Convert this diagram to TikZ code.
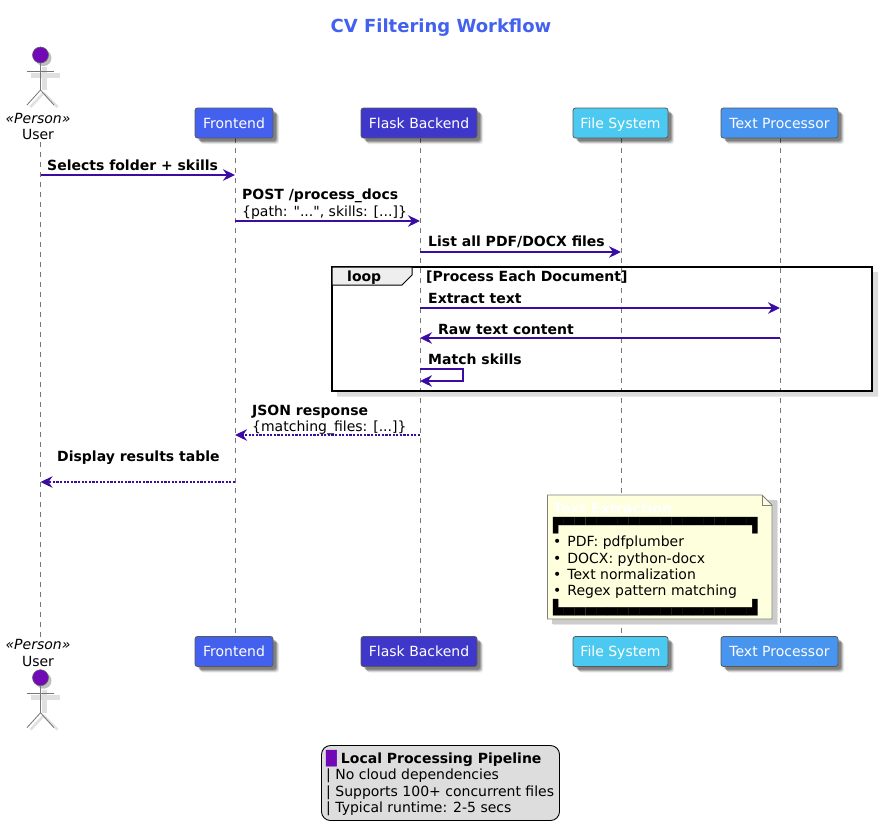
\documentclass[tikz,border=0pt]{standalone}
\usepackage{fontspec}
\setmainfont{DejaVu Sans}
\newfontfamily\plainq{DejaVu Sans}
\usetikzlibrary{arrows.meta,shadows,calc}
\definecolor{cTitle}{HTML}{4361EE}
\definecolor{cFS}{HTML}{4CC9F0}
\definecolor{cTP}{HTML}{4895EF}
\definecolor{cFB}{HTML}{3F37C9}
\definecolor{cHead}{HTML}{7209B7}
\definecolor{cArrow}{HTML}{3A0CA3}
\definecolor{cNote}{HTML}{FEFFDD}
\definecolor{cLine}{HTML}{777777}
\definecolor{cLegend}{HTML}{DDDDDD}
\definecolor{cTab}{HTML}{EEEEEE}
\tikzset{
  softshadow/.style={
    general shadow={shadow xshift=6pt,shadow yshift=-6pt,fill=black,opacity=.08},
    general shadow={shadow xshift=5pt,shadow yshift=-5pt,fill=black,opacity=.14},
    general shadow={shadow xshift=4pt,shadow yshift=-4pt,fill=black,opacity=.2},
    general shadow={shadow xshift=3pt,shadow yshift=-3pt,fill=black,opacity=.2}},
  partbox/.style={draw=black!65,line width=.8pt,rounded corners=2.5pt,minimum height=30pt,
    inner sep=0pt,text height=14pt,text depth=3.5pt,text=white,softshadow,font=\fontsize{14}{16}\selectfont},
  lifeline/.style={draw=cLine,line width=.8pt,dash pattern=on 5pt off 5pt},
  msg/.style={draw=cArrow,line width=2.4pt,-{Stealth[length=12pt,width=11.5pt,inset=4pt]}},
  ret/.style={msg,dash pattern=on 2.2pt off 1.4pt},
  lbl/.style={anchor=base west,inner sep=0pt,font=\fontsize{14}{16.4}\selectfont},
  mlbl/.style={lbl,anchor=north west,align=left},
  limb/.style={draw=cLine,line width=.8pt},
  limbshadow/.style={draw=black!12,line width=5pt},
  head/.style={circle,fill=cHead,draw=black!60,line width=.6pt,minimum size=16pt,inner sep=0pt}
}
\newcommand{\actorfig}[3]{%
  \fill[black!25] (#2+3,#3+3) circle (8);
  \draw[limbshadow] (#2+4,#3+12) -- (#2+4,#3+35);
  \draw[limbshadow] (#2-10,#3+20) -- (#2+19,#3+20);
  \draw[limbshadow,line width=2.5pt] (#2+3,#3+38) -- (#2-10,#3+52) (#2+3,#3+38) -- (#2+17,#3+52);
  \node[head] (#1) at (#2,#3) {};
  \draw[limb] (#1.south) -- (#2,#3+35);
  \draw[limb] (#2-13.5,#3+16) -- (#2+13.5,#3+16);
  \draw[limb] (#2,#3+35) -- (#2-13.5,#3+50) (#2,#3+35) -- (#2+13.5,#3+50);
}
\begin{document}
\begin{tikzpicture}[x=1pt,y=-1pt]
\useasboundingbox (0,0) rectangle (882,839);
\fill[white] (0,0) rectangle (882,839);
\node[font=\fontsize{18}{20}\bfseries\selectfont,text=cTitle,inner sep=0pt] (title) at (441,27.5) {CV Filtering Workflow};

% lifelines
\coordinate (uT) at (40.5,142); \coordinate (uB) at (40.5,637);
\coordinate (feT) at (235,138); \coordinate (feB) at (235,636);
\coordinate (fbT) at (420,138); \coordinate (fbB) at (420,636);
\coordinate (fsT) at (621,138); \coordinate (fsB) at (621,636);
\coordinate (tpT) at (780,138); \coordinate (tpB) at (780,636);
\draw[lifeline] (uT) -- (uB);
\draw[lifeline] (feT) -- (feB);
\draw[lifeline] (fbT) -- (fbB);
\draw[lifeline] (fsT) -- (fsB);
\draw[lifeline] (tpT) -- (tpB);

% top participants
\actorfig{userT}{40.5}{55}
\node[lbl,anchor=base,font=\fontsize{14}{16}\itshape\selectfont] (personT) at (38,123) {«Person»};
\node[lbl,anchor=base] (nameT) at (38,139) {User};
\node[partbox,fill=cTitle,minimum width=78pt] (fe) at (234,123) {Frontend};
\node[partbox,fill=cFB,minimum width=116pt] (fb) at (419,123) {Flask Backend};
\node[partbox,fill=cFS,minimum width=95pt] (fs) at (620.5,123) {File System};
\node[partbox,fill=cTP,minimum width=117pt] (tp) at (779.5,123) {Text Processor};

% bottom participants
\actorfig{userB}{40.5}{677.7}
\node[lbl,anchor=base,font=\fontsize{14}{16}\itshape\selectfont] (personB) at (38,649) {«Person»};
\node[lbl,anchor=base] (nameB) at (38,666) {User};
\node[partbox,fill=cTitle,minimum width=78pt] (feb) at (234,651.5) {Frontend};
\node[partbox,fill=cFB,minimum width=116pt] (fbb) at (419,651.5) {Flask Backend};
\node[partbox,fill=cFS,minimum width=95pt] (fsb) at (620.5,651.5) {File System};
\node[partbox,fill=cTP,minimum width=117pt] (tpb) at (779.5,651.5) {Text Processor};

% loop frame
\fill[black!14] (337,391) rectangle (878,396.5) (872,272) rectangle (878,396.5);
\draw[line width=1.8pt,draw=black] (332,267) rectangle (872,391);
\draw[line width=1pt,fill=cTab] (332,267) -- (412,267) -- (412,275) -- (402,285) -- (332,285) -- cycle;
\node[lbl,font=\fontsize{14}{16}\bfseries\selectfont] (looptag) at (347,281) {loop};
\node[lbl,font=\fontsize{14}{16}\bfseries\selectfont] (loopname) at (426,281) {[Process Each Document]};

% messages
\draw[msg] (uT |- 0,175) -- (feT |- 0,175);
\node[lbl,font=\fontsize{14}{16}\bfseries\selectfont] (m1) at (47,170) {Selects folder + skills};

\draw[msg] (feT |- 0,221) -- (fbT |- 0,221);
\node[mlbl] (m2) at (242,189) {\textbf{POST /process\_docs}\\\{path: {\plainq "}...{\plainq "}, skills: [...]\}};

\draw[msg] (fbT |- 0,252) -- (fsT |- 0,252);
\node[lbl,font=\fontsize{14}{16}\bfseries\selectfont] (m3) at (428,246) {List all PDF/DOCX files};

\draw[msg] (fbT |- 0,308) -- (tpT |- 0,308);
\node[lbl,font=\fontsize{14}{16}\bfseries\selectfont] (m4) at (428,303) {Extract text};

\draw[msg] (tpT |- 0,338) -- (fbT |- 0,338);
\node[lbl,font=\fontsize{14}{16}\bfseries\selectfont] (m5) at (438,334) {Raw text content};

\draw[msg] (fbT |- 0,369) -- ++(43,0) -- ++(0,12) -- (fbT |- 0,381);
\node[lbl,font=\fontsize{14}{16}\bfseries\selectfont] (m6) at (428,364) {Match skills};

\draw[ret] (fbT |- 0,435) -- (feT |- 0,435);
\node[mlbl] (m7) at (252,404.5) {\textbf{JSON response}\\\{matching\_files: [...]\}};

\draw[ret] (feT |- 0,482) -- (uT |- 0,482);
\node[lbl,font=\fontsize{14}{16}\bfseries\selectfont] (m8) at (57,461) {Display results table};

% note
\fill[black!10] (553,501) rectangle (778,625);
\fill[black!20] (552,500) rectangle (776.5,623.5);
\draw[draw=black!50,line width=.8pt,fill=cNote] (547.5,495) -- (762,495) -- (772,505) -- (772,619) -- (547.5,619) -- cycle;
\draw[draw=black!50,line width=.8pt] (762,495) -- (762,505) -- (772,505);
\node[mlbl,font=\fontsize{14}{16.4}\selectfont] (note) at (553,503) {%
  \textcolor{white}{\textbf{Text Extraction}}\\
  ▛▀▀▀▀▀▀▀▀▀▀▀▀▀▀▀▀▀▜\\
  •\hspace{1.5pt} PDF: pdfplumber\\
  •\hspace{1.5pt} DOCX: python-docx\\
  •\hspace{1.5pt} Text normalization\\
  •\hspace{1.5pt} Regex pattern matching\\
  ▙▄▄▄▄▄▄▄▄▄▄▄▄▄▄▄▄▄▟};

% legend
\draw[draw=black,line width=.9pt,fill=cLegend,rounded corners=9pt] (321.5,745.5) rectangle (559.5,820.5);
\node[mlbl] (legend) at (326,750) {%
  \textcolor{cHead}{█}\hspace{4pt}\textbf{Local Processing Pipeline}\\
  | No cloud dependencies\\
  | Supports 100+ concurrent files\\
  | Typical runtime: 2-5 secs};
\end{tikzpicture}
\end{document}
